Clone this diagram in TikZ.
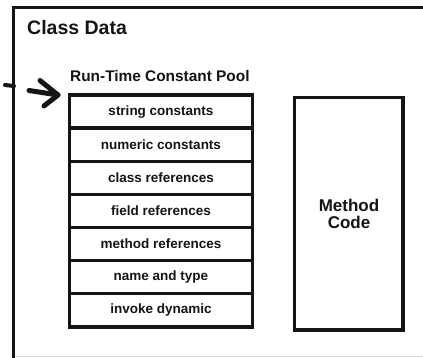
\documentclass[tikz,border=0pt]{standalone}
\usepackage{fontspec}
\setmainfont{Liberation Sans}
\definecolor{ink}{HTML}{151515}
\begin{document}
\begin{tikzpicture}[x=1pt,y=-1pt,
  rowbox/.style={draw=ink, line width=3.3pt, minimum width=183pt, minimum height=33.14pt,
     inner sep=0pt, font=\bfseries\fontsize{13.5}{15}\selectfont, text=ink},
  thick line/.style={draw=ink, line width=3.2pt},
  arrowstroke/.style={draw=ink, line width=5pt, line cap=round, line join=round}]
\useasboundingbox (0,0) rectangle (423,358);
\clip (0,0) rectangle (423,358);
\fill[white] (0,0) rectangle (423,358);
% outer class data frame
\draw[gray!25, line width=1.5pt] (13.5,356.5) -- (430,356.5);
\draw[thick line] (430,7.5) -- (13.5,7.5) -- (13.5,365);
\node[anchor=base west, font=\bfseries\fontsize{19.5}{22}\selectfont, text=ink, inner sep=0pt] (cd) at (27,35) {Class Data};
\node[anchor=base west, font=\bfseries\fontsize{15.4}{18}\selectfont, text=ink, inner sep=0pt] (rtcp) at (70,82) {Run-Time Constant Pool};
% rows
\foreach \i/\t in {1/string constants,2/numeric constants,3/class references,4/field references,5/method references,6/name and type,7/invoke dynamic}{
  \node[rowbox] (r\i) at (161,{95+33.14*(\i-0.5)}) {\t};
}
% method code
\node[draw=ink, line width=3.2pt, minimum width=108.5pt, minimum height=232.5pt, inner sep=0pt] (mc) at (348.75,213.75) {};
\node[align=center, font=\bfseries\fontsize{17}{17}\selectfont, text=ink, inner sep=0pt] (mct) at (349,214) {Method\\Code};
% arrow
\coordinate (stubA) at (5,85);
\coordinate (stubB) at (14,86);
\draw[draw=ink, line width=4pt, line cap=round] (stubA) -- (stubB);
\coordinate (tail) at (29,90.5);
\coordinate (tip) at (58,95);
\coordinate (hu) at (40,80.5);
\coordinate (hl) at (44,106);
\draw[arrowstroke] (tail) -- (tip);
\draw[arrowstroke] (hu) -- (tip) -- (hl);
\end{tikzpicture}
\end{document}
